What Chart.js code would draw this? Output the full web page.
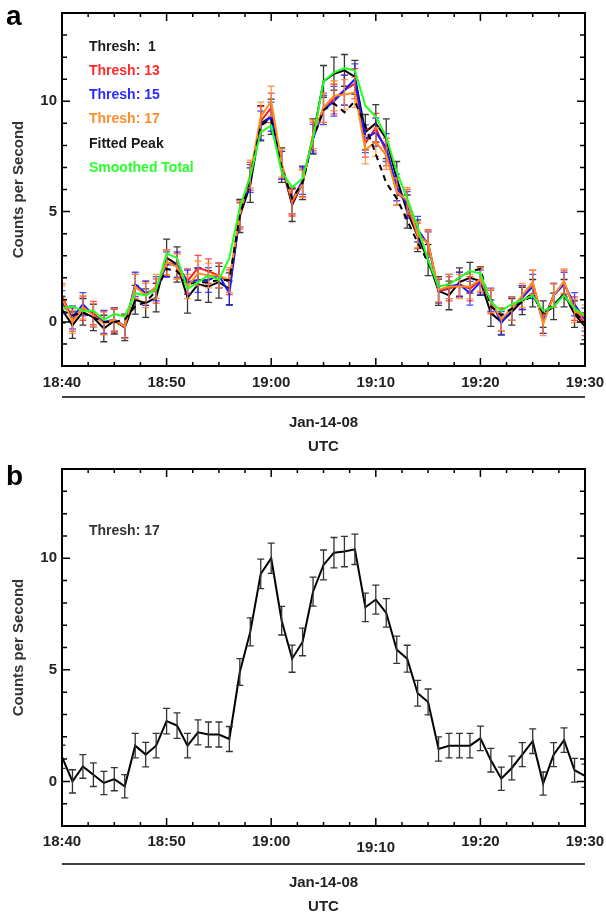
<!DOCTYPE html>
<html><head><meta charset="utf-8">
<script src="https://cdn.jsdelivr.net/npm/chart.js@4.4.1/dist/chart.umd.min.js"></script>
<style>
html,body{margin:0;padding:0;background:#fff;overflow:hidden;width:606px;height:915px}
#ca{position:absolute;left:0;top:0}
#cb{position:absolute;left:0;top:455px}
</style></head><body>
<canvas id="ca" width="606" height="460"></canvas>
<canvas id="cb" width="606" height="470"></canvas>
<script>
// ---------------- data ----------------
const times = ['18:40','18:41','18:42','18:43','18:44','18:45','18:46','18:47','18:48','18:49',
 '18:50','18:51','18:52','18:53','18:54','18:55','18:56','18:57','18:58','18:59',
 '19:00','19:01','19:02','19:03','19:04','19:05','19:06','19:07','19:08','19:09',
 '19:10','19:11','19:12','19:13','19:14','19:15','19:16','19:17','19:18','19:19',
 '19:20','19:21','19:22','19:23','19:24','19:25','19:26','19:27','19:28','19:29','19:30'];

const thresh1 = [0.55,-0.15,0.45,0.2,-0.3,0.05,-0.25,1.0,0.85,1.1,
 2.9,2.6,1.1,1.7,1.6,1.8,1.5,4.8,6.2,9.0,
 9.3,7.1,5.3,6.3,8.4,10.9,11.25,11.4,11.1,8.6,
 9.0,8.3,6.5,5.0,3.9,2.8,1.4,1.2,1.8,2.0,
 1.85,0.4,0.0,0.45,0.95,1.3,0.35,0.7,1.3,0.35,-0.2];
const thresh1Err = [0.6,0.6,0.6,0.6,0.6,0.6,0.6,0.65,0.65,0.65,
 0.85,0.8,0.7,0.72,0.72,0.72,0.72,0.75,0.78,0.8,
 0.8,0.78,0.75,0.76,0.8,0.72,0.75,0.72,0.75,0.8,
 0.85,0.9,0.77,0.75,0.72,0.7,0.65,0.65,0.65,0.7,
 0.65,0.6,0.6,0.6,0.62,0.62,0.6,0.6,0.62,0.6,0.6];

const thresh13 = [1.2,0.1,0.6,0.4,-0.05,0.05,-0.2,1.6,1.3,1.4,
 2.7,2.55,1.85,2.45,2.3,2.1,1.8,4.8,6.6,9.1,
 9.7,7.1,5.4,6.3,8.4,9.7,10.1,10.5,10.8,8.1,
 8.8,7.7,5.9,5.4,3.9,3.6,1.4,1.5,1.7,1.5,
 1.9,0.9,0.1,0.6,1.1,1.8,0.0,1.2,1.8,0.6,-0.1];
const thresh13Err = [0.52,0.52,0.53,0.53,0.52,0.52,0.52,0.55,0.55,0.55,
 0.57,0.57,0.55,0.56,0.56,0.56,0.56,0.6,0.63,0.66,
 0.67,0.63,0.6,0.62,0.65,0.66,0.67,0.68,0.68,0.63,
 0.65,0.63,0.61,0.6,0.58,0.58,0.54,0.55,0.55,0.55,
 0.55,0.53,0.52,0.53,0.54,0.55,0.52,0.54,0.55,0.53,0.52];

const thresh15 = [0.9,0.2,0.8,0.3,0.0,0.1,-0.2,1.7,1.3,1.5,
 2.6,2.6,1.8,1.9,1.9,2.1,1.3,4.9,6.5,8.9,
 9.3,7.1,5.5,6.4,8.3,9.6,10.0,10.5,11.0,8.3,
 8.6,7.9,6.1,5.3,4.2,3.5,1.4,1.6,1.7,1.3,
 1.8,1.0,-0.05,0.6,1.1,1.6,0.0,1.2,1.7,0.8,0.1];
const thresh15Err = [0.52,0.52,0.53,0.53,0.52,0.52,0.52,0.55,0.55,0.55,
 0.57,0.57,0.55,0.56,0.56,0.56,0.55,0.6,0.63,0.65,
 0.66,0.63,0.6,0.62,0.65,0.66,0.67,0.68,0.69,0.63,
 0.64,0.63,0.61,0.6,0.58,0.58,0.54,0.55,0.55,0.54,
 0.55,0.53,0.52,0.53,0.54,0.55,0.52,0.54,0.55,0.53,0.52];

const thresh17 = [1.1,0.0,0.67,0.3,-0.07,0.1,-0.22,1.6,1.2,1.6,
 2.7,2.5,1.6,2.2,2.1,2.1,1.9,4.9,6.7,9.3,
 10.0,7.2,5.5,6.25,8.5,9.7,10.25,10.3,10.4,7.8,
 8.15,7.55,5.9,5.5,3.95,3.56,1.45,1.6,1.6,1.6,
 1.93,0.95,0.12,0.6,1.2,1.8,-0.1,1.2,1.85,0.5,0.25];
const thresh17Err = [0.52,0.52,0.53,0.53,0.52,0.52,0.52,0.55,0.55,0.55,
 0.57,0.57,0.55,0.56,0.56,0.56,0.56,0.6,0.63,0.66,
 0.68,0.64,0.61,0.62,0.65,0.67,0.68,0.68,0.68,0.64,
 0.65,0.64,0.61,0.6,0.58,0.58,0.54,0.55,0.55,0.55,
 0.55,0.53,0.52,0.53,0.54,0.55,0.52,0.54,0.55,0.53,0.52];

const fittedPeak = [0.5,0.3,0.4,0.2,0.0,0.0,0.1,0.7,0.9,1.4,
 2.4,2.3,1.7,1.8,1.8,1.9,1.9,4.8,6.6,8.9,
 9.2,7.0,5.6,6.3,8.3,9.6,9.9,9.5,10.0,8.9,
 7.6,6.3,5.6,4.6,3.6,2.7,1.6,1.7,2.0,2.3,
 2.4,0.7,0.3,0.6,0.9,1.2,0.4,0.8,1.2,0.4,0.0];

const smoothedTotal = [0.6,0.7,0.5,0.5,0.1,0.35,0.25,1.3,1.2,1.45,
 3.1,2.9,1.5,1.8,2.1,1.9,2.9,5.2,6.6,8.6,
 8.9,6.8,6.1,6.5,8.3,10.9,11.3,11.5,11.4,9.8,
 9.3,8.4,6.8,5.6,4.3,2.8,1.6,1.7,2.0,2.3,
 2.2,0.9,0.5,0.8,1.0,1.2,0.5,0.7,1.2,0.6,0.3];

const xTickLabels = ['18:40','18:50','19:00','19:10','19:20','19:30'];
const yTickValues = [0,5,10];
const yRange = [-2,14];

// ---------------- helpers ----------------
function toMin(t){const p=t.split(':').map(Number);return (p[0]-18)*60+p[1]-40;}
const xs = times.map(toMin);
const pts = arr => arr.map((v,i)=>({x:xs[i],y:v}));
const xTickVals = xTickLabels.map(toMin);
const FONT = "'Liberation Sans', Arial, Helvetica, sans-serif";
Chart.defaults.font.family = FONT;

const errorBars = {
  id:'errorBars',
  afterDatasetDraw(chart,args){
    const ds = chart.data.datasets[args.index];
    if(!ds.errors) return;
    const {ctx,chartArea:a,scales:{x,y}} = chart;
    ctx.save();
    ctx.beginPath(); ctx.rect(a.left,a.top,a.right-a.left,a.bottom-a.top); ctx.clip();
    ctx.strokeStyle = ds.errColor || ds.borderColor;
    ctx.lineWidth = ds.errWidth || 1.3;
    const cap = ds.capHalf || 3.5;
    ds.data.forEach((p,i)=>{
      const e = ds.errors[i];
      const px = x.getPixelForValue(p.x);
      const y1 = y.getPixelForValue(p.y+e), y2 = y.getPixelForValue(p.y-e);
      ctx.beginPath();
      ctx.moveTo(px,y1); ctx.lineTo(px,y2);
      ctx.moveTo(px-cap,y1); ctx.lineTo(px+cap,y1);
      ctx.moveTo(px-cap,y2); ctx.lineTo(px+cap,y2);
      ctx.stroke();
    });
    ctx.restore();
  }
};

const decor = {
  id:'decor',
  afterDraw(chart,args,o){
    const {ctx,chartArea:a,scales:{x,y}} = chart;
    ctx.save();
    ctx.strokeStyle='#000'; ctx.lineWidth=1.5;
    for(let v=x.min; v<=x.max+1e-6; v+=2.5){
      const px=x.getPixelForValue(v);
      const L = (Math.abs(v%10)<1e-6)?8:4;
      ctx.beginPath();
      ctx.moveTo(px,a.bottom); ctx.lineTo(px,a.bottom-L);
      ctx.moveTo(px,a.top); ctx.lineTo(px,a.top+L);
      ctx.stroke();
    }
    for(let v=y.min; v<=y.max+1e-6; v+=1){
      const py=y.getPixelForValue(v);
      const L = yTickValues.includes(v)?8:5;
      ctx.beginPath();
      ctx.moveTo(a.left,py); ctx.lineTo(a.left+L,py);
      ctx.moveTo(a.right,py); ctx.lineTo(a.right-L,py);
      ctx.stroke();
    }
    ctx.lineWidth=2;
    ctx.strokeRect(a.left,a.top,a.right-a.left,a.bottom-a.top);
    ctx.lineWidth=1.6;
    ctx.beginPath(); ctx.moveTo(a.left,o.lineY); ctx.lineTo(a.right,o.lineY); ctx.stroke();
    ctx.fillStyle='#000';
    ctx.font='bold 28px '+FONT;
    ctx.textBaseline='alphabetic'; ctx.textAlign='left';
    ctx.fillText(o.letter,6,o.letterY);
    ctx.font='bold 14px '+FONT;
    ctx.textBaseline='middle';
    let k=0;
    chart.data.datasets.forEach(ds=>{
      if(!ds.legendText) return;
      ctx.fillStyle=ds.legendColor;
      ctx.fillText(ds.legendText,o.legX,o.legY+k*24.2);
      k++;
    });
    ctx.restore();
  }
};

function makeOptions(cfg){
  return {
    responsive:false,
    animation:false,
    layout:{padding:{top:cfg.top,right:21,left:0,bottom:0}},
    plugins:{legend:{display:false},tooltip:{enabled:false},
      decor:{lineY:cfg.lineY,letter:cfg.letter,letterY:cfg.letterY,legX:89,legY:cfg.legY}},
    elements:{point:{radius:0},line:{tension:0,borderWidth:2}},
    scales:{
      x:{type:'linear',min:0,max:50,
        grid:{display:false,drawTicks:false},border:{display:false},
        afterBuildTicks:s=>{s.ticks=xTickVals.map(v=>({value:v}));},
        afterFit:s=>{s.height=cfg.xh;s.paddingLeft=0;s.paddingRight=0;},
        ticks:{autoSkip:false,maxRotation:0,padding:cfg.tickPad,color:'#222',
          font:(c)=>({size:15,weight:'bold',lineHeight:(cfg.shift1910 && c.tick && c.tick.value===30)?'30px':'18px'}),
          callback:v=>xTickLabels[xTickVals.indexOf(v)]},
        title:{display:true,text:['Jan-14-08','UTC'],color:'#222',
          font:{size:15,weight:'bold',lineHeight:'24px'},padding:{top:0,bottom:cfg.titlePad}}
      },
      y:{min:yRange[0],max:yRange[1],
        grid:{display:false,drawTicks:false},border:{display:false},
        afterBuildTicks:s=>{s.ticks=yTickValues.map(v=>({value:v}));},
        afterFit:s=>{s.width=62;s.paddingTop=0;s.paddingBottom=0;},
        ticks:{padding:5,color:'#222',font:{size:15,weight:'bold'},callback:v=>String(v)},
        title:{display:true,text:'Counts per Second',color:'#333',
          font:{size:15,weight:'bold',lineHeight:'18px'},padding:{top:10,bottom:0}}
      }
    }
  };
}

new Chart(document.getElementById('ca'),{
  type:'line',
  plugins:[errorBars,decor],
  data:{datasets:[
    {label:'Thresh: 1',legendText:'Thresh:  1',legendColor:'#1a1a1a',data:pts(thresh1),errors:thresh1Err,
      borderColor:'#000',errColor:'rgba(20,20,20,0.85)',order:6},
    {label:'Thresh: 13',legendText:'Thresh: 13',legendColor:'#ff2a2a',data:pts(thresh13),errors:thresh13Err,
      borderColor:'#ff1a1a',errColor:'rgba(255,30,30,0.8)',order:5},
    {label:'Thresh: 15',legendText:'Thresh: 15',legendColor:'#2a2aff',data:pts(thresh15),errors:thresh15Err,
      borderColor:'#1a1aff',errColor:'rgba(30,30,255,0.8)',order:4},
    {label:'Thresh: 17',legendText:'Thresh: 17',legendColor:'#ff8c2a',data:pts(thresh17),errors:thresh17Err,
      borderColor:'#ff8a1e',errColor:'rgba(255,140,40,0.85)',order:3},
    {label:'Fitted Peak',legendText:'Fitted Peak',legendColor:'#1a1a1a',data:pts(fittedPeak),
      borderColor:'#000',borderDash:[6,5],order:2},
    {label:'Smoothed Total',legendText:'Smoothed Total',legendColor:'#2bff2b',data:pts(smoothedTotal),
      borderColor:'#22ff22',order:1}
  ]},
  options:makeOptions({top:13,xh:94,tickPad:8,titlePad:1,lineY:397,letter:'a',letterY:25,legY:47,shift1910:false})
});

new Chart(document.getElementById('cb'),{
  type:'line',
  plugins:[errorBars,decor],
  data:{datasets:[
    {label:'Thresh: 17',legendText:'Thresh: 17',legendColor:'#333',data:pts(thresh17),errors:thresh17Err,
      borderColor:'#000',errColor:'#333',errWidth:1.3,capHalf:3.5}
  ]},
  options:makeOptions({top:14,xh:99,tickPad:7,titlePad:6,lineY:409,letter:'b',letterY:30,legY:76,shift1910:true})
});
</script>
</body></html>
